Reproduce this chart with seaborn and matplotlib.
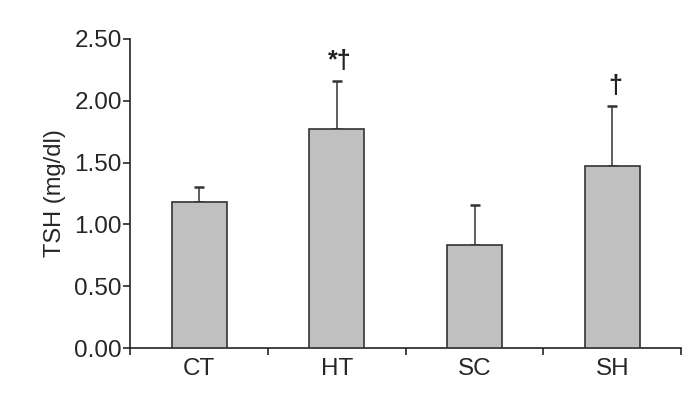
import numpy as np
import matplotlib
matplotlib.use("Agg")
import matplotlib.pyplot as plt
import seaborn as sns

# data
groups = ["CT", "HT", "SC", "SH"]
tsh_mean = [1.18, 1.77, 0.83, 1.47]
tsh_err = [0.12, 0.39, 0.33, 0.49]
marks = ["", "*\u2020", "", "\u2020"]

sns.set_style("ticks")
plt.rcParams['font.family'] = ['Liberation Sans', 'DejaVu Sans']

fig = plt.figure(figsize=(7, 3.96), dpi=100)
ax = fig.add_axes([0.186, 0.121, 0.787, 0.781])

sns.barplot(x=groups, y=tsh_mean, color="#c0c0c0", saturation=1, width=0.4,
            edgecolor="#333333", linewidth=1.2, ax=ax, zorder=3)

xpos = np.arange(len(groups))
ax.errorbar(xpos, tsh_mean, yerr=[np.zeros(len(groups)), tsh_err], fmt="none",
            ecolor="#333333", elinewidth=1.1, capsize=3.6, capthick=1.8, zorder=2)

for x, m, e, s in zip(xpos, tsh_mean, tsh_err, marks):
    if s:
        ax.text(x + 0.02, m + e + 0.06, s, ha="center", va="bottom", fontsize=18,
                fontweight="bold", color="#222222")

ax.set_xlim(-0.5, 3.5)
ax.set_ylim(0, 2.5)
ax.set_yticks([0, 0.5, 1.0, 1.5, 2.0, 2.5])
ax.set_yticklabels(["0.00", "0.50", "1.00", "1.50", "2.00", "2.50"])
ax.set_xticks(xpos)
ax.set_xticklabels(groups)
ax.set_xticks(np.arange(-0.5, 4.0, 1.0), minor=True)
ax.tick_params(axis="x", which="major", length=0, pad=7, labelsize=17.5)
ax.tick_params(axis="x", which="minor", length=5, width=1.2, direction="out")
ax.tick_params(axis="y", length=5, width=1.2, direction="out", pad=1, labelsize=17.5)
ax.set_ylabel("TSH (mg/dl)", fontsize=17, labelpad=6)

for sp in ["left", "bottom"]:
    ax.spines[sp].set_linewidth(1.2)
    ax.spines[sp].set_color("#222222")
sns.despine(ax=ax)

fig.savefig("out.png", dpi=100)
